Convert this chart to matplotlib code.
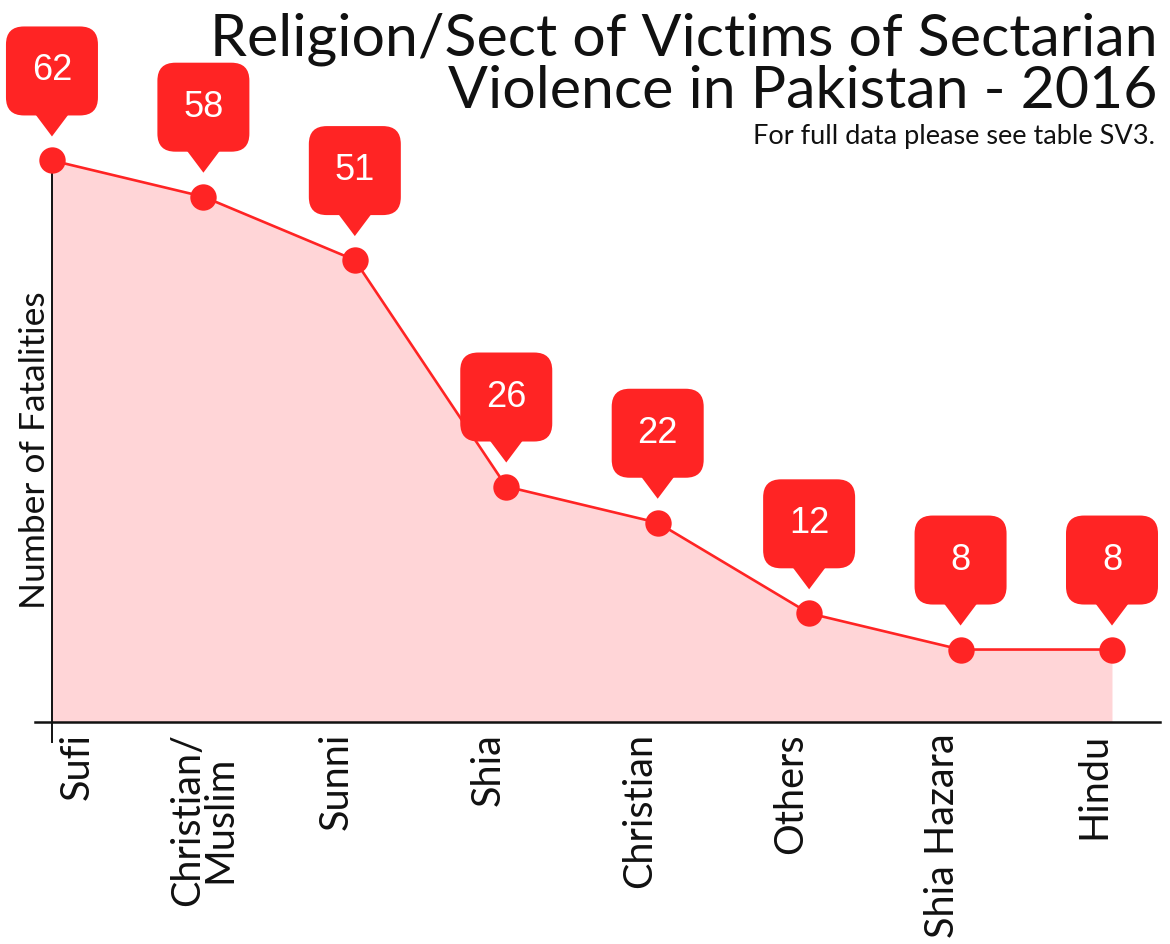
import matplotlib
matplotlib.use("Agg")
import matplotlib.pyplot as plt
from matplotlib.patches import FancyBboxPatch, Polygon
from matplotlib.transforms import IdentityTransform, ScaledTranslation

# fatalities by religion / sect, 2016
sects = ["Sufi", "Christian/\nMuslim", "Sunni", "Shia", "Christian",
         "Others", "Shia Hazara", "Hindu"]
fatalities = [62, 58, 51, 26, 22, 12, 8, 8]

title_lines = ["Religion/Sect of Victims of Sectarian",
               "Violence in Pakistan - 2016"]
subtitle = "For full data please see table SV3."

RED = "#ff2424"
PINK = "#ffd5d7"
INK = "#111111"
FONT = "Lato"

fig = plt.figure(figsize=(11.7, 9.44), dpi=100)
W, H = 1170, 944

# axes box in pixels: x-axis line from 35 to 1160, baseline at 722
ax = fig.add_axes([35 / W, (H - 722) / H, 1125 / W, 634 / H])
ax.set_xlim(-0.112, 7.317)
ax.set_ylim(0, 70)
for s in ax.spines.values():
    s.set_visible(False)
ax.set_yticks([])

x = list(range(len(sects)))
ax.fill_between(x, fatalities, 0, color=PINK, lw=0, zorder=1)
ax.plot(x, fatalities, color=RED, lw=1.9, marker="o", markersize=19,
        markeredgewidth=0, zorder=3)

# axis lines
ax.plot([-0.112, 7.317], [0, 0], color=INK, lw=1.8, clip_on=False, zorder=2)
ax.plot([0, 0], [-2.2, 62], color=INK, lw=1.4, clip_on=False, zorder=2)

ax.set_xticks(x)
ax.set_xticklabels(sects, rotation=90, fontsize=28.5, family=FONT,
                   color=INK, va="top", multialignment="center",
                   linespacing=0.85)
ax.tick_params(axis="x", length=0, pad=8)
labels = ax.get_xticklabels()
for lab in labels:
    lab.set_ha("right")
labels[0].set_ha("left")
labels[0].set_transform(labels[0].get_transform()
                        + ScaledTranslation(7 / 100, 0, fig.dpi_scale_trans))
labels[1].set_ha("center")

fig.text(35 / W, 1 - 450 / H, "Number of Fatalities", rotation=90,
         ha="center", va="center", fontsize=25.5, family=FONT, color=INK)

# title as two right-aligned lines
for line, base in zip(title_lines, [55, 108]):
    fig.text(1158 / W, 1 - base / H, line, ha="right", va="baseline",
             fontsize=42.5, family=FONT, color=INK)
fig.text(1155 / W, 1 - 144 / H, subtitle,
         ha="right", va="baseline", fontsize=19.5, family=FONT, color=INK)

# value callouts above every point
pts = ax.transData.transform(list(zip(x, fatalities)))
for (cx, cy), v in zip(pts, fatalities):
    box = FancyBboxPatch((cx - 46, cy + 45), 92, 89,
                         boxstyle="round,pad=0,rounding_size=18",
                         transform=IdentityTransform(), color=RED, lw=0,
                         zorder=5)
    tip = Polygon([(cx - 21, cy + 52), (cx + 21, cy + 52), (cx, cy + 24)],
                  closed=True, transform=IdentityTransform(), color=RED,
                  lw=0, zorder=5)
    fig.add_artist(box)
    fig.add_artist(tip)
    fig.text(cx / W, (cy + 89.5) / H, str(v), ha="center", va="center",
             color="white", fontsize=26, family="Liberation Sans", zorder=6)

fig.savefig("out.png", dpi=100)
